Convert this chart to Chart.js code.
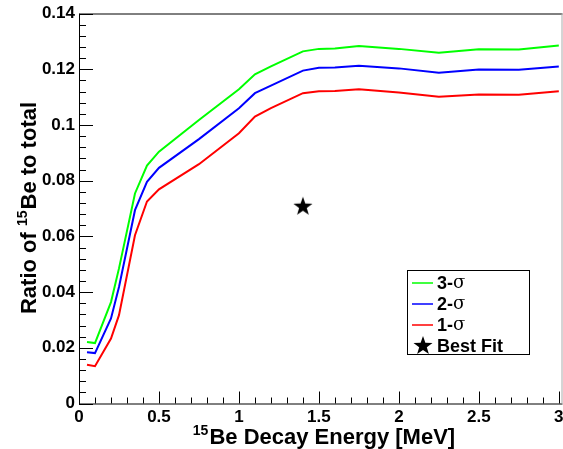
<!DOCTYPE html>
<html><head><meta charset="utf-8">
<script src="https://cdn.jsdelivr.net/npm/chart.js@4.4.0/dist/chart.umd.min.js"></script>
<style>html,body{margin:0;padding:0;background:#fff;}#wrap{width:563px;height:449px;position:relative;}</style>
</head><body><div id="wrap"><canvas id="c" width="563" height="449"></canvas></div>
<script>
// ---- data ----
const energies = [0.05, 0.1, 0.2, 0.25, 0.35, 0.425, 0.5, 0.75, 1.0, 1.1, 1.2, 1.4, 1.5, 1.6, 1.75, 2.0, 2.25, 2.5, 2.75, 3.0];
const sigma3 = [0.0221, 0.0217, 0.0364, 0.0485, 0.0754, 0.0854, 0.0904, 0.1018, 0.1128, 0.1182, 0.1210, 0.1264, 0.1273, 0.1274, 0.1283, 0.1273, 0.1259, 0.1272, 0.1271, 0.1285];
const sigma2 = [0.0184, 0.0181, 0.0305, 0.0418, 0.0694, 0.0796, 0.0846, 0.0949, 0.1060, 0.1114, 0.1141, 0.1195, 0.1205, 0.1206, 0.1212, 0.1203, 0.1187, 0.1199, 0.1198, 0.1210];
const sigma1 = [0.0139, 0.0134, 0.0233, 0.0317, 0.0604, 0.0725, 0.0769, 0.0859, 0.0970, 0.1030, 0.1060, 0.1114, 0.1121, 0.1122, 0.1128, 0.1116, 0.1101, 0.1109, 0.1108, 0.1121];
const bestFitEnergy = [1.4];
const bestFitRatio = [0.071];
const seriesLabels = ['3-', '2-', '1-', 'Best Fit'];
const seriesColors = ['#00ff00', '#0000ff', '#ff0000', '#000000'];
const xTickValues = [0, 0.5, 1, 1.5, 2, 2.5, 3];
const xTickLabels = ['0', '0.5', '1', '1.5', '2', '2.5', '3'];
const yTickValues = [0, 0.02, 0.04, 0.06, 0.08, 0.1, 0.12, 0.14];
const yTickLabels = ['0', '0.02', '0.04', '0.06', '0.08', '0.1', '0.12', '0.14'];
const xTitleParts = ['15', 'Be Decay Energy [MeV]'];
const yTitleParts = ['Ratio of ', '15', 'Be to total'];

const FONT = 'Liberation Sans';
const pts = (xs, ys) => xs.map((x, i) => ({x: x, y: ys[i]}));

function makeStar(size) {
  const c = document.createElement('canvas');
  c.width = size; c.height = size;
  const g = c.getContext('2d');
  const cx = size / 2, cy = size / 2 + size * 0.05, R = size / 2, r = R * 0.4;
  g.beginPath();
  for (let i = 0; i < 10; i++) {
    const a = -Math.PI / 2 + i * Math.PI / 5;
    const rad = i % 2 ? r : R;
    const px = cx + rad * Math.cos(a), py = cy + rad * Math.sin(a);
    if (i === 0) g.moveTo(px, py); else g.lineTo(px, py);
  }
  g.closePath();
  g.fillStyle = '#000';
  g.fill();
  return c;
}
const starImg = makeStar(20);

const rootPlugin = {
  id: 'rootFrame',
  beforeDatasetsDraw(chart) {
    const ctx = chart.ctx, a = chart.chartArea;
    const xs = chart.scales.x, ys = chart.scales.y;
    ctx.save();
    ctx.strokeStyle = '#000';
    ctx.lineWidth = 1;
    ctx.beginPath();
    ctx.moveTo(a.left + 0.5, a.top + 0.5); ctx.lineTo(a.right, a.top + 0.5);
    ctx.moveTo(a.left + 0.5, a.top); ctx.lineTo(a.left + 0.5, a.bottom + 0.5);
    ctx.moveTo(a.left, a.bottom + 0.5); ctx.lineTo(a.right, a.bottom + 0.5);
    ctx.stroke();
    ctx.strokeStyle = '#aaa';
    ctx.beginPath();
    ctx.moveTo(a.right - 0.5, a.top); ctx.lineTo(a.right - 0.5, a.bottom);
    ctx.stroke();
    ctx.strokeStyle = '#000';
    ctx.beginPath();
    for (let k = 0; k <= 35; k++) {
      const v = k * 0.004;
      const py = Math.round(ys.getPixelForValue(v)) + 0.5;
      const len = (k % 5 === 0) ? 14 : 7;
      ctx.moveTo(a.left, py); ctx.lineTo(a.left + len, py);
    }
    for (let k = 0; k <= 30; k++) {
      const v = k * 0.1;
      const px = Math.round(xs.getPixelForValue(v)) + 0.5;
      const len = (k % 5 === 0) ? 12 : 6;
      ctx.moveTo(px, a.bottom); ctx.lineTo(px, a.bottom - len);
    }
    ctx.stroke();
    ctx.restore();
  },
  afterDraw(chart) {
    const ctx = chart.ctx;
    ctx.save();
    ctx.fillStyle = '#000';
    ctx.textBaseline = 'alphabetic';
    const big = 'bold 22px "' + FONT + '"', small = 'bold 14px "' + FONT + '"';
    // x title
    ctx.font = small; const w1 = ctx.measureText(xTitleParts[0]).width;
    ctx.font = big; const w2 = ctx.measureText(xTitleParts[1]).width;
    const x0 = 324 - (w1 + w2 + 1) / 2;
    const by = 444;
    ctx.font = small; ctx.fillText(xTitleParts[0], x0, by - 9);
    ctx.font = big; ctx.fillText(xTitleParts[1], x0 + w1 + 1, by);
    // y title (rotated)
    ctx.translate(36, 208);
    ctx.rotate(-Math.PI / 2);
    ctx.font = big; const a1 = ctx.measureText(yTitleParts[0]).width;
    ctx.font = small; const a2 = ctx.measureText(yTitleParts[1]).width;
    ctx.font = big; const a3 = ctx.measureText(yTitleParts[2]).width;
    const t0 = -(a1 + a2 + a3 + 1) / 2;
    ctx.font = big; ctx.fillText(yTitleParts[0], t0, 0);
    ctx.font = small; ctx.fillText(yTitleParts[1], t0 + a1, -9);
    ctx.font = big; ctx.fillText(yTitleParts[2], t0 + a1 + a2 + 1, 0);
    ctx.setTransform(1, 0, 0, 1, 0, 0);
    // legend box
    const L = 407, T = 270, R = 529, B = 354;
    ctx.fillStyle = '#fff';
    ctx.fillRect(L, T, R - L, B - T);
    ctx.strokeStyle = '#000'; ctx.lineWidth = 1;
    ctx.strokeRect(L + 0.5, T + 0.5, R - L, B - T);
    const rows = [283, 304, 325, 346];
    ctx.textBaseline = 'middle';
    for (let i = 0; i < 3; i++) {
      ctx.strokeStyle = seriesColors[i]; ctx.lineWidth = 1.5;
      ctx.beginPath(); ctx.moveTo(412, rows[i]); ctx.lineTo(433, rows[i]); ctx.stroke();
      ctx.fillStyle = '#000';
      ctx.font = 'bold 18px "' + FONT + '"';
      ctx.fillText(seriesLabels[i], 437, rows[i] + 1);
      const tw = ctx.measureText(seriesLabels[i]).width;
      ctx.font = '18px "DejaVu Serif"';
      ctx.fillText('σ', 437 + tw, rows[i]);
    }
    ctx.drawImage(starImg, 423 - 10, rows[3] - 11);
    ctx.fillStyle = '#000';
    ctx.font = 'bold 18px "' + FONT + '"';
    ctx.fillText(seriesLabels[3], 437, rows[3] + 1);
    ctx.restore();
  }
};

const tickFont = {family: FONT, weight: 'bold', size: 17};
new Chart(document.getElementById('c'), {
  type: 'line',
  data: {
    datasets: [
      {label: seriesLabels[0], data: pts(energies, sigma3), borderColor: seriesColors[0], borderWidth: 2, pointRadius: 0, tension: 0, fill: false},
      {label: seriesLabels[1], data: pts(energies, sigma2), borderColor: seriesColors[1], borderWidth: 2, pointRadius: 0, tension: 0, fill: false},
      {label: seriesLabels[2], data: pts(energies, sigma1), borderColor: seriesColors[2], borderWidth: 2, pointRadius: 0, tension: 0, fill: false},
      {label: seriesLabels[3], data: pts(bestFitEnergy, bestFitRatio), showLine: false, pointStyle: starImg, pointRadius: 10, borderColor: seriesColors[3], backgroundColor: seriesColors[3]}
    ]
  },
  options: {
    responsive: false, animation: false, devicePixelRatio: 1,
    layout: {autoPadding: false, padding: {top: 13.5, right: 0.5, left: 0, bottom: 0}},
    plugins: {legend: {display: false}, tooltip: {enabled: false}},
    scales: {
      x: {
        type: 'linear', min: 0, max: 3.023,
        afterBuildTicks: s => { s.ticks = xTickValues.map(v => ({value: v})); },
        ticks: {callback: (v, i) => xTickLabels[i], font: tickFont, color: '#000', padding: 4, maxRotation: 0, autoSkip: false},
        grid: {display: false, drawTicks: false}, border: {display: false},
        afterFit: s => { s.height = 45.5; s.paddingLeft = 0; s.paddingRight = 0; }
      },
      y: {
        type: 'linear', min: 0, max: 0.14,
        afterBuildTicks: s => { s.ticks = yTickValues.map(v => ({value: v})); },
        ticks: {callback: (v, i) => yTickLabels[i], font: tickFont, color: '#000', padding: 4, autoSkip: false},
        grid: {display: false, drawTicks: false}, border: {display: false},
        afterFit: s => { s.width = 79; s.paddingTop = 0; s.paddingBottom = 0; }
      }
    }
  },
  plugins: [rootPlugin]
});
</script></body></html>
